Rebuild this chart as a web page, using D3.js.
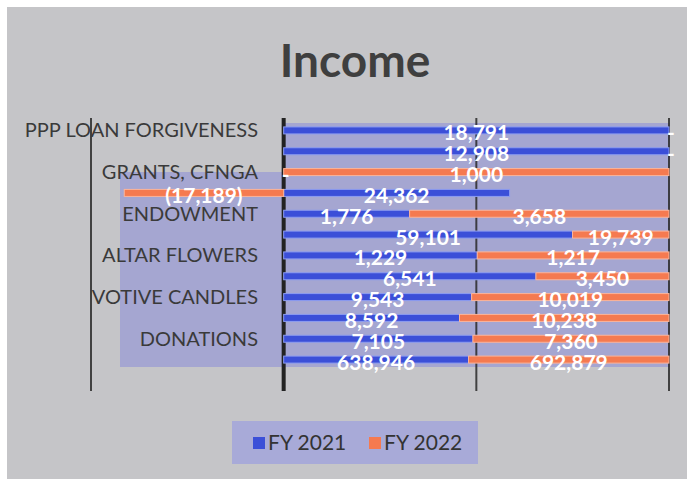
<!DOCTYPE html>
<html>
<head>
<meta charset="utf-8">
<script src="https://cdn.jsdelivr.net/npm/d3@7"></script>
<style>
  body { margin: 0; background: #fff; }
  svg { display: block; font-family: Lato, "Open Sans", sans-serif; }
</style>
</head>
<body>
<div id="chart"></div>
<script>
// rows top to bottom; Excel only shows every other category label
const categories = ["PPP LOAN FORGIVENESS", "", "GRANTS, CFNGA", "", "ENDOWMENT", "",
  "ALTAR FLOWERS", "", "VOTIVE CANDLES", "", "DONATIONS", ""];
const fy2021 = [18791, 12908, 0, 24362, 1776, 59101, 1229, 6541, 9543, 8592, 7105, 638946];
const fy2022 = [0, 0, 1000, -17189, 3658, 19739, 1217, 3450, 10019, 10238, 7360, 692879];
const seriesNames = ["FY 2021", "FY 2022"];
const gridTicks = [-0.5, 0, 0.5, 1];

const width = 687, height = 479;
const colors = ["#3b4fd8", "#f57a50"];

const svg = d3.select("#chart")
  .append("svg")
    .attr("width", width)
    .attr("height", height);

svg.append("rect")
  .attr("x", 7).attr("y", 7)
  .attr("width", width - 7).attr("height", height - 7)
  .attr("fill", "#c5c5c8");

svg.append("text")
  .attr("x", 355)
  .attr("y", 77)
  .attr("text-anchor", "middle")
  .style("font-size", "46px")
  .style("font-weight", "bold")
  .attr("fill", "#3f3f3f")
  .text("Income");

var x = d3.scaleLinear()
  .domain([-0.5, 1])
  .range([91, 669]);

var y = d3.scaleBand()
  .domain(d3.range(categories.length))
  .range([120, 370]);

// plot area fill (L-shaped, as in the picture)
svg.append("path")
  .attr("d", `M${x(0)},123 H670 V367 H120 V172 H${x(0)} Z`)
  .attr("fill", "#a3a4d2")
  .attr("opacity", 0.95);

// gridlines
svg.selectAll(".grid")
  .data(gridTicks)
  .join("line")
    .attr("x1", d => x(d))
    .attr("x2", d => x(d))
    .attr("y1", 118)
    .attr("y2", 391)
    .attr("stroke", d => d === 0 ? "#222" : "#2a2a2a")
    .attr("stroke-width", d => d === 0 ? 4 : 2)
    .attr("opacity", d => d === 0 ? 1 : 0.85);

// 100% stacked, shares use absolute totals (negatives go left)
const rows = categories.map((c, i) => {
  const a = fy2021[i], b = fy2022[i];
  const tot = Math.abs(a) + Math.abs(b);
  const segs = [];
  let pos = 0, neg = 0;
  [a, b].forEach((v, k) => {
    const share = tot ? Math.abs(v) / tot : 0;
    let x0, x1;
    if (v >= 0) { x0 = pos; x1 = pos + share; pos = x1; }
    else { x1 = neg; x0 = neg - share; neg = x0; }
    segs.push({row: i, k, v, x0, x1});
  });
  return segs;
}).flat();

const barH = 7;
svg.selectAll(".bar")
  .data(rows.filter(d => d.v !== 0))
  .join("rect")
    .attr("x", d => x(d.x0))
    .attr("y", d => y(d.row) + y.bandwidth() / 2 - barH / 2)
    .attr("width", d => x(d.x1) - x(d.x0))
    .attr("height", barH)
    .attr("fill", d => colors[d.k])
    .attr("stroke", d => d.k === 0 ? "#8d9cf0" : "#fbb49a")
    .attr("stroke-width", 1);

const fmt = d3.format(",");
const labelText = v => v === 0 ? "-" : v < 0 ? "(" + fmt(-v) + ")" : fmt(v);

svg.selectAll(".val")
  .data(rows)
  .join("text")
    .attr("x", d => x((d.x0 + d.x1) / 2) + (d.v === 0 ? 2 : 0))
    .attr("y", d => y(d.row) + y.bandwidth() / 2 + 10)
    .attr("text-anchor", "middle")
    .attr("fill", "#fff")
    .style("font-size", "21px")
    .style("font-weight", "bold")
    .text(d => labelText(d.v));

svg.selectAll(".cat")
  .data(categories)
  .join("text")
    .attr("x", 258)
    .attr("y", (d, i) => y(i) + y.bandwidth() / 2 + 7)
    .attr("text-anchor", "end")
    .attr("fill", "#3a3a3a")
    .style("font-size", "20px")
    .text(d => d);

// legend
const lg = svg.append("g");
lg.append("rect")
  .attr("x", 232).attr("y", 421)
  .attr("width", 246).attr("height", 43)
  .attr("fill", "#a8aad8");
const lx = [253, 369];
lg.selectAll(".sw")
  .data(seriesNames)
  .join("rect")
    .attr("x", (d, i) => lx[i])
    .attr("y", 437)
    .attr("width", 12).attr("height", 12)
    .attr("fill", (d, i) => colors[i]);
lg.selectAll(".lt")
  .data(seriesNames)
  .join("text")
    .attr("x", (d, i) => lx[i] + 15)
    .attr("y", 450)
    .attr("fill", "#333")
    .style("font-size", "21px")
    .text(d => d);
</script>
</body>
</html>
